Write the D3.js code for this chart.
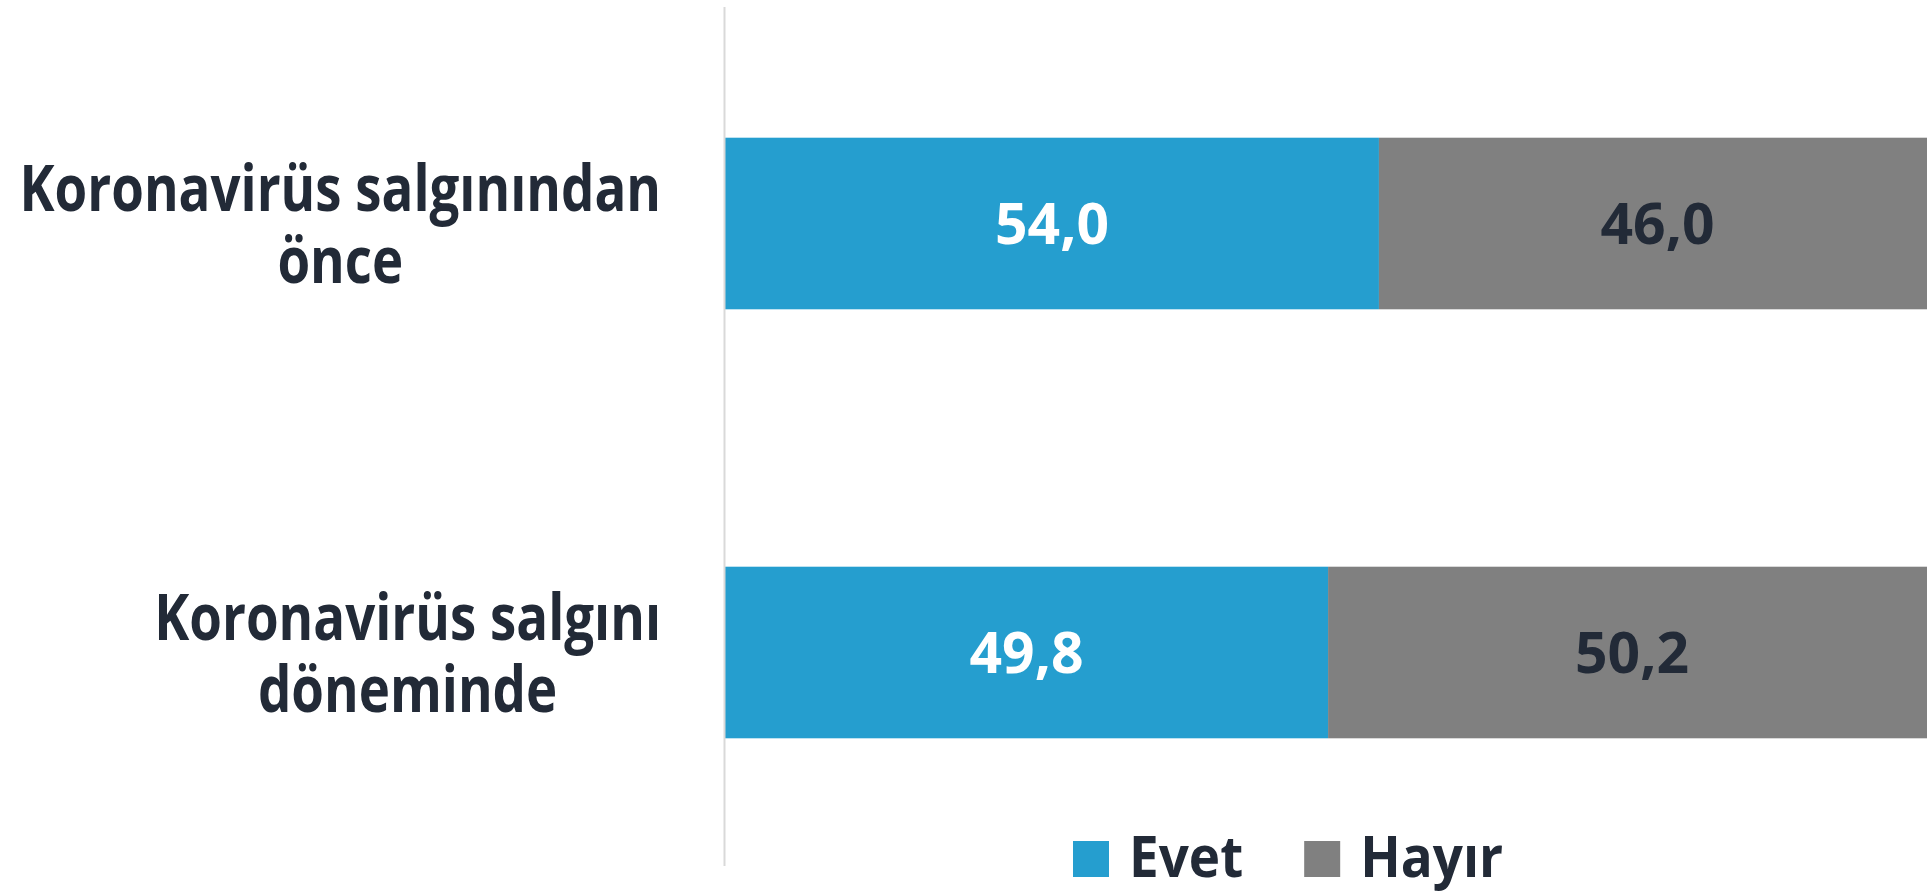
<!DOCTYPE html>
<html lang="tr">
<head>
<meta charset="UTF-8">
<title>Koronavirüs salgını - Evet / Hayır</title>
<script src="https://d3js.org/d3.v7.min.js"></script>
<style>
    body {
        margin: 0;
        background: #fff;
        overflow: hidden;
    }
    svg text {
        font-family: 'Open Sans', sans-serif;
        font-weight: 700;
    }
</style>
</head>
<body>
<svg id="chart"></svg>
<script>
    // data
    var categories = [
        ["Koronavirüs salgınından", "önce"],
        ["Koronavirüs salgını", "döneminde"]
    ];
    var seriesNames = ["Evet", "Hayır"];
    var evetValues = [54.0, 49.8];
    var hayirValues = [46.0, 50.2];

    var colors = {Evet: "#259ecf", Hayır: "#808080"};
    var labelColors = {Evet: "#ffffff", Hayır: "#222a37"};
    var textColor = "#222a37";

    var width = 1927, height = 894;
    var svg = d3.select("#chart").attr("width", width).attr("height", height);

    // squeeze text horizontally (the original face is narrower than Open Sans)
    function condense(sel, k) {
        sel.each(function () {
            var w = this.getComputedTextLength();
            d3.select(this).attr("textLength", w * k).attr("lengthAdjust", "spacingAndGlyphs");
        });
    }

    var x = d3.scaleLinear().domain([0, 100]).range([725, 1936]);
    var y = d3.scaleBand()
        .domain(d3.range(categories.length))
        .range([9, 867])
        .paddingInner(0.6)
        .paddingOuter(0.3);

    // stacked rows
    var rows = categories.map(function (c, i) {
        return {i: i, Evet: evetValues[i], Hayır: hayirValues[i]};
    });
    var stack = d3.stack().keys(seriesNames)(rows);

    var layers = svg.append("g").selectAll("g")
        .data(stack)
        .enter().append("g")
        .attr("fill", function (d) { return colors[d.key]; });

    layers.selectAll("rect")
        .data(function (d) { return d; })
        .enter().append("rect")
        .attr("x", function (d) { return x(d[0]); })
        .attr("y", function (d) { return y(d.data.i); })
        .attr("width", function (d) { return x(d[1]) - x(d[0]); })
        .attr("height", y.bandwidth());

    // value labels
    stack.forEach(function (layer) {
        svg.append("g").selectAll("text")
            .data(layer)
            .enter().append("text")
            .attr("x", function (d) { return (x(d[0]) + x(d[1])) / 2; })
            .attr("y", function (d) { return y(d.data.i) + y.bandwidth() / 2; })
            .attr("dy", "0.36em")
            .attr("text-anchor", "middle")
            .attr("font-size", 57)
            .attr("fill", labelColors[layer.key])
            .text(function (d) { return (d[1] - d[0]).toFixed(1).replace(".", ","); });
    });

    // vertical axis line
    svg.append("line")
        .attr("x1", 724.5).attr("x2", 724.5)
        .attr("y1", 7).attr("y2", 866)
        .attr("stroke", "#d9d9d9")
        .attr("stroke-width", 2);

    // category labels: wrapped lines centred inside a right-aligned block
    var labelRight = 661, lineHeight = 72;
    categories.forEach(function (lines, i) {
        var g = svg.append("g");
        var cy = y(i) + y.bandwidth() / 2;
        var texts = g.selectAll("text")
            .data(lines)
            .enter().append("text")
            .attr("font-size", 64)
            .attr("fill", textColor)
            .attr("text-anchor", "middle")
            .attr("y", function (d, k) { return cy + (k - (lines.length - 1) / 2) * lineHeight; })
            .attr("dy", "0.36em")
            .text(function (d) { return d; });
        condense(texts, 0.825);
        var maxW = d3.max(texts.nodes(), function (n) { return +n.getAttribute("textLength"); });
        texts.attr("x", labelRight - maxW / 2);
    });

    // legend
    var legend = svg.append("g");
    var lx = 1073;
    seriesNames.forEach(function (name) {
        legend.append("rect")
            .attr("x", lx).attr("y", 841)
            .attr("width", 36).attr("height", 36)
            .attr("fill", colors[name]);
        var t = legend.append("text")
            .attr("x", lx + 56).attr("y", 877)
            .attr("font-size", 57)
            .attr("fill", textColor)
            .text(name);
        condense(t, 0.93);
        lx += 56 + (+t.attr("textLength")) + 61;
    });
</script>
</body>
</html>
